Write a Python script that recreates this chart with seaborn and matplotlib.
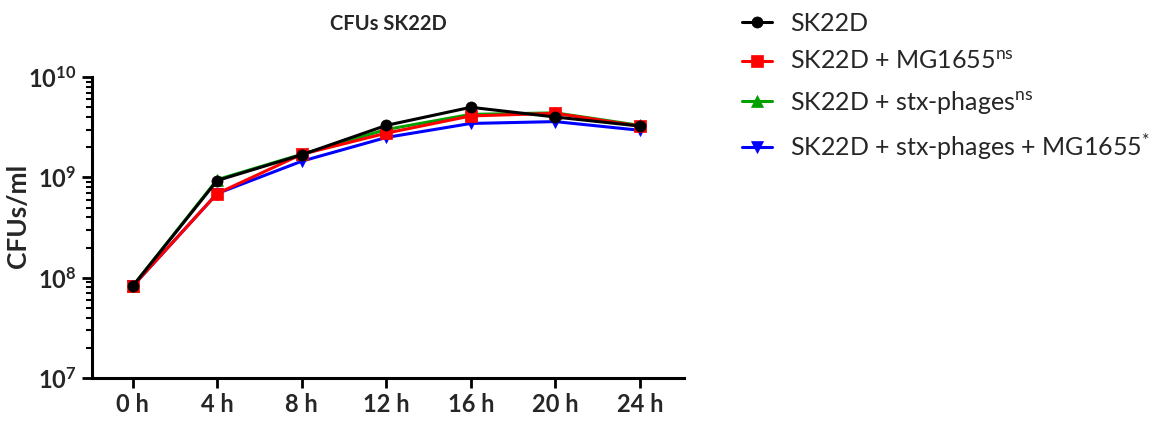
import numpy as np
import pandas as pd
import matplotlib
matplotlib.use("Agg")
import matplotlib.pyplot as plt
import seaborn as sns
from matplotlib.ticker import LogLocator, NullFormatter, FixedLocator

# Sampling times (hours) and their labels
hours = [0, 4, 8, 12, 16, 20, 24]
hour_labels = ["0 h", "4 h", "8 h", "12 h", "16 h", "20 h", "24 h"]

# CFUs/ml per condition
sk22d = [8.2e7, 9.3e8, 1.68e9, 3.3e9, 5.0e9, 4.0e9, 3.25e9]
sk22d_mg = [8.2e7, 6.9e8, 1.70e9, 2.76e9, 4.1e9, 4.35e9, 3.25e9]
sk22d_stx = [8.2e7, 9.5e8, 1.70e9, 3.0e9, 4.25e9, 4.4e9, 3.3e9]
sk22d_stx_mg = [8.2e7, 6.9e8, 1.45e9, 2.5e9, 3.45e9, 3.6e9, 2.95e9]

labels = [
    "SK22D",
    r"SK22D + MG1655$^{\mathrm{ns}}$",
    r"SK22D + stx-phages$^{\mathrm{ns}}$",
    r"SK22D + stx-phages + MG1655$^{*}$",
]
colors = ["#000000", "#ff0000", "#00a000", "#0000ff"]
markers = ["o", "s", "^", "v"]
values = [sk22d, sk22d_mg, sk22d_stx, sk22d_stx_mg]

sns.set_theme(style="ticks")
plt.rcParams["font.family"] = ["Lato", "DejaVu Sans"]
plt.rcParams["mathtext.fontset"] = "custom"
plt.rcParams["mathtext.rm"] = "Lato"
plt.rcParams["mathtext.it"] = "Lato:italic"
plt.rcParams["mathtext.bf"] = "Lato:bold"

fig = plt.figure(figsize=(11.5, 4.26), dpi=100)
ax = fig.add_axes([0.080, 0.1127, 0.515, 0.7063])

# draw back to front: blue, green, red, black
handles = {}
for i in [3, 2, 1, 0]:
    df = pd.DataFrame({"hours": hours, "cfu": values[i]})
    sns.lineplot(data=df, x="hours", y="cfu", ax=ax, color=colors[i],
                 marker=markers[i], markersize=8, linewidth=2.2,
                 markeredgecolor=colors[i], markeredgewidth=0.5,
                 label=labels[i], legend=False)
    handles[i] = ax.lines[-1]

ax.set_yscale("log")
ax.set_ylim(1e7, 1e10)
ax.set_xlim(-1.92, 26.1)
ax.yaxis.set_major_locator(FixedLocator([1e7, 1e8, 1e9, 1e10]))
ax.yaxis.set_minor_locator(LogLocator(base=10, subs=np.arange(2, 10)))
ax.yaxis.set_minor_formatter(NullFormatter())
ax.set_yticklabels([r"$\mathbf{10^{7}}$", r"$\mathbf{10^{8}}$",
                    r"$\mathbf{10^{9}}$", r"$\mathbf{10^{10}}$"], fontsize=17)
ax.set_xticks(hours)
ax.set_xticklabels(hour_labels, fontsize=17, fontweight="bold")

ax.tick_params(axis="both", which="major", direction="out", length=7, width=2, color="black", pad=4)
ax.tick_params(axis="y", which="minor", direction="out", length=4, width=1.5, color="black")
for side in ["top", "right"]:
    ax.spines[side].set_visible(False)
for side in ["left", "bottom"]:
    ax.spines[side].set_linewidth(2.2)
    ax.spines[side].set_color("black")

ax.set_xlabel("")
ax.set_ylabel("CFUs/ml", fontsize=19, fontweight="bold")
ax.yaxis.set_label_coords(-0.104, 0.54)
ax.set_title("CFUs SK22D", fontsize=14.5, fontweight="bold", pad=34)

fig.legend([handles[i] for i in [0, 1, 2, 3]], labels,
           loc="upper left", bbox_to_anchor=(0.626, 1.025), frameon=False,
           fontsize=18, handlelength=1.2, labelspacing=0.62, handletextpad=0.7)

fig.savefig("out.png", dpi=100, facecolor="white")
